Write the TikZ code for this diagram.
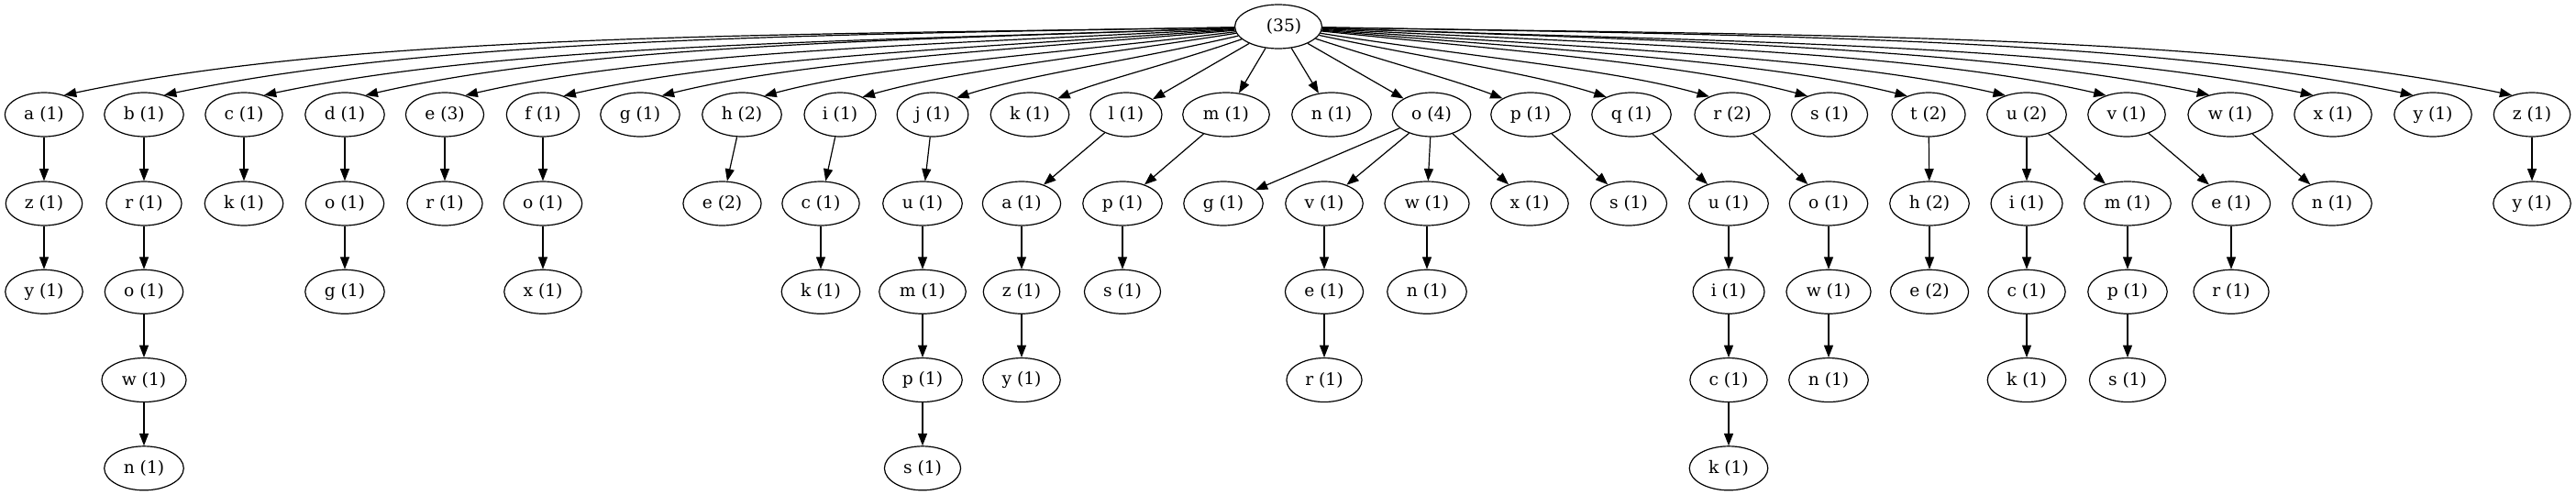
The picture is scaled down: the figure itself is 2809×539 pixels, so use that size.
\documentclass[tikz,border=0pt]{standalone}
\usepackage{fontspec}
\setmainfont{DejaVu Serif}
\usetikzlibrary{positioning}
\usetikzlibrary{arrows.meta}
\usetikzlibrary{shapes.geometric}

\begin{document}
\begin{tikzpicture}[x=0.75pt,y=0.75pt,node distance=35.3pt]
\tikzset{trie/.style={ellipse, draw, line width=0.9pt, minimum height=36pt, inner xsep=6.3pt, inner ysep=1pt, font=\fontsize{14}{16}\selectfont}}
\tikzset{link/.style={line width=0.9pt, -{Triangle[length=10pt,width=7.5pt]}, out looseness=1, in looseness=0.65}}
\useasboundingbox (0,0) rectangle (2809,-539);
% root
\node[trie] (root) at (1394,-29) {\kern9pt(35)};
% first level
\node[trie] (a) at (48,-125) {a (1)};
\node[trie] (b) at (157,-125) {b (1)};
\node[trie] (c) at (266,-125) {c (1)};
\node[trie] (d) at (376,-125) {d (1)};
\node[trie] (e) at (485,-125) {e (3)};
\node[trie] (f) at (592,-125) {f (1)};
\node[trie] (g) at (698,-125) {g (1)};
\node[trie] (h) at (809,-125) {h (2)};
\node[trie] (i) at (916,-125) {i (1)};
\node[trie] (j) at (1017,-125) {j (1)};
\node[trie] (k) at (1123,-125) {k (1)};
\node[trie] (l) at (1228,-125) {l (1)};
\node[trie] (m) at (1337,-125) {m (1)};
\node[trie] (n) at (1452,-125) {n (1)};
\node[trie] (o) at (1561,-125) {o (4)};
\node[trie] (p) at (1669,-125) {p (1)};
\node[trie] (q) at (1779,-125) {q (1)};
\node[trie] (r) at (1889,-125) {r (2)};
\node[trie] (s) at (1995,-125) {s (1)};
\node[trie] (t) at (2103,-125) {t (2)};
\node[trie] (u) at (2210,-125) {u (2)};
\node[trie] (v) at (2319,-125) {v (1)};
\node[trie] (w) at (2432,-125) {w (1)};
\node[trie] (x) at (2544,-125) {x (1)};
\node[trie] (y) at (2653,-125) {y (1)};
\node[trie] (z) at (2761,-125) {z (1)};
% second level
\node[trie] (az) at (48,-222) {z (1)};
\node[trie] (br) at (157,-222) {r (1)};
\node[trie] (ck) at (266,-222) {k (1)};
\node[trie] (do) at (376,-222) {o (1)};
\node[trie] (er) at (485,-222) {r (1)};
\node[trie] (fo) at (592,-222) {o (1)};
\node[trie] (he) at (787.5,-222) {e (2)};
\node[trie] (ic) at (895,-222) {c (1)};
\node[trie] (ju) at (1006,-222) {u (1)};
\node[trie] (la) at (1114,-222) {a (1)};
\node[trie] (mp) at (1224,-222) {p (1)};
\node[trie] (og) at (1334,-222) {g (1)};
\node[trie] (ov) at (1444,-222) {v (1)};
\node[trie] (ow) at (1556,-222) {w (1)};
\node[trie] (ox) at (1668,-222) {x (1)};
\node[trie] (ps) at (1776,-222) {s (1)};
\node[trie] (qu) at (1885,-222) {u (1)};
\node[trie] (ro) at (1994,-222) {o (1)};
\node[trie] (th) at (2104,-222) {h (2)};
\node[trie] (ui) at (2210,-222) {i (1)};
\node[trie] (um) at (2320,-222) {m (1)};
\node[trie] (ve) at (2433,-222) {e (1)};
\node[trie] (wn) at (2543,-222) {n (1)};
\node[trie] (zy) at (2761,-222) {y (1)};
% deeper levels
\node[trie, below = of az] (azy) {y (1)};
\node[trie, below = of br] (bro) {o (1)};
\node[trie, below = of bro] (brow) {w (1)};
\node[trie, below = of brow] (brown) {n (1)};
\node[trie, below = of do] (dog) {g (1)};
\node[trie, below = of fo] (fox) {x (1)};
\node[trie, below = of ic] (ick) {k (1)};
\node[trie, below = of ju] (jum) {m (1)};
\node[trie, below = of jum] (jump) {p (1)};
\node[trie, below = of jump] (jumps) {s (1)};
\node[trie, below = of la] (laz) {z (1)};
\node[trie, below = of laz] (lazy) {y (1)};
\node[trie, below = of mp] (mps) {s (1)};
\node[trie, below = of ov] (ove) {e (1)};
\node[trie, below = of ove] (over) {r (1)};
\node[trie, below = of ow] (own) {n (1)};
\node[trie, below = of qu] (qui) {i (1)};
\node[trie, below = of qui] (quic) {c (1)};
\node[trie, below = of quic] (quick) {k (1)};
\node[trie, below = of ro] (row) {w (1)};
\node[trie, below = of row] (rown) {n (1)};
\node[trie, below = of th] (the) {e (2)};
\node[trie, below = of ui] (uic) {c (1)};
\node[trie, below = of uic] (uick) {k (1)};
\node[trie, below = of um] (ump) {p (1)};
\node[trie, below = of ump] (umps) {s (1)};
\node[trie, below = of ve] (ver) {r (1)};
% edges from the root
\draw[link] (root) to[out=181,in=12] (a.44);
\draw[link] (root) to[out=181,in=12] (b.44);
\draw[link] (root) to[out=182,in=12] (c.44);
\draw[link] (root) to[out=182,in=13] (d.43);
\draw[link] (root) to[out=183,in=13] (e.43);
\draw[link] (root) to[out=184,in=13] (f.42);
\draw[link] (root) to[out=185,in=14] (g.41);
\draw[link] (root) to[out=187,in=15] (h.40);
\draw[link] (root) to[out=189,in=16] (i.38);
\draw[link] (root) to[out=193,in=18] (j.35);
\draw[link] (root) to[out=199,in=22] (k.30);
\draw[link] (root) -- (l);
\draw[link] (root) -- (m);
\draw[link] (root) -- (n);
\draw[link] (root) -- (o);
\draw[link] (root) to[out=342,in=159] (p.150);
\draw[link] (root) to[out=348,in=162] (q.145);
\draw[link] (root) to[out=351,in=164] (r.142);
\draw[link] (root) to[out=354,in=165] (s.140);
\draw[link] (root) to[out=355,in=166] (t.139);
\draw[link] (root) to[out=356,in=167] (u.138);
\draw[link] (root) to[out=357,in=167] (v.137);
\draw[link] (root) to[out=358,in=168] (w.137);
\draw[link] (root) to[out=358,in=168] (x.136);
\draw[link] (root) to[out=359,in=168] (y.136);
\draw[link] (root) to[out=359,in=168] (z.136);
% edges below
\draw[link] (a) -- (az);
\draw[link] (az) -- (azy);
\draw[link] (b) -- (br);
\draw[link] (br) -- (bro);
\draw[link] (bro) -- (brow);
\draw[link] (brow) -- (brown);
\draw[link] (c) -- (ck);
\draw[link] (d) -- (do);
\draw[link] (do) -- (dog);
\draw[link] (e) -- (er);
\draw[link] (f) -- (fo);
\draw[link] (fo) -- (fox);
\draw[link] (h) -- (he);
\draw[link] (i) -- (ic);
\draw[link] (ic) -- (ick);
\draw[link] (j) -- (ju);
\draw[link] (ju) -- (jum);
\draw[link] (jum) -- (jump);
\draw[link] (jump) -- (jumps);
\draw[link] (l) -- (la);
\draw[link] (la) -- (laz);
\draw[link] (laz) -- (lazy);
\draw[link] (m) -- (mp);
\draw[link] (mp) -- (mps);
\draw[link] (o) -- (og);
\draw[link] (o) -- (ov);
\draw[link] (ov) -- (ove);
\draw[link] (ove) -- (over);
\draw[link] (o) -- (ow);
\draw[link] (ow) -- (own);
\draw[link] (o) -- (ox);
\draw[link] (p) -- (ps);
\draw[link] (q) -- (qu);
\draw[link] (qu) -- (qui);
\draw[link] (qui) -- (quic);
\draw[link] (quic) -- (quick);
\draw[link] (r) -- (ro);
\draw[link] (ro) -- (row);
\draw[link] (row) -- (rown);
\draw[link] (t) -- (th);
\draw[link] (th) -- (the);
\draw[link] (u) -- (ui);
\draw[link] (ui) -- (uic);
\draw[link] (uic) -- (uick);
\draw[link] (u) -- (um);
\draw[link] (um) -- (ump);
\draw[link] (ump) -- (umps);
\draw[link] (v) -- (ve);
\draw[link] (ve) -- (ver);
\draw[link] (w) -- (wn);
\draw[link] (z) -- (zy);
\end{tikzpicture}
\end{document}
